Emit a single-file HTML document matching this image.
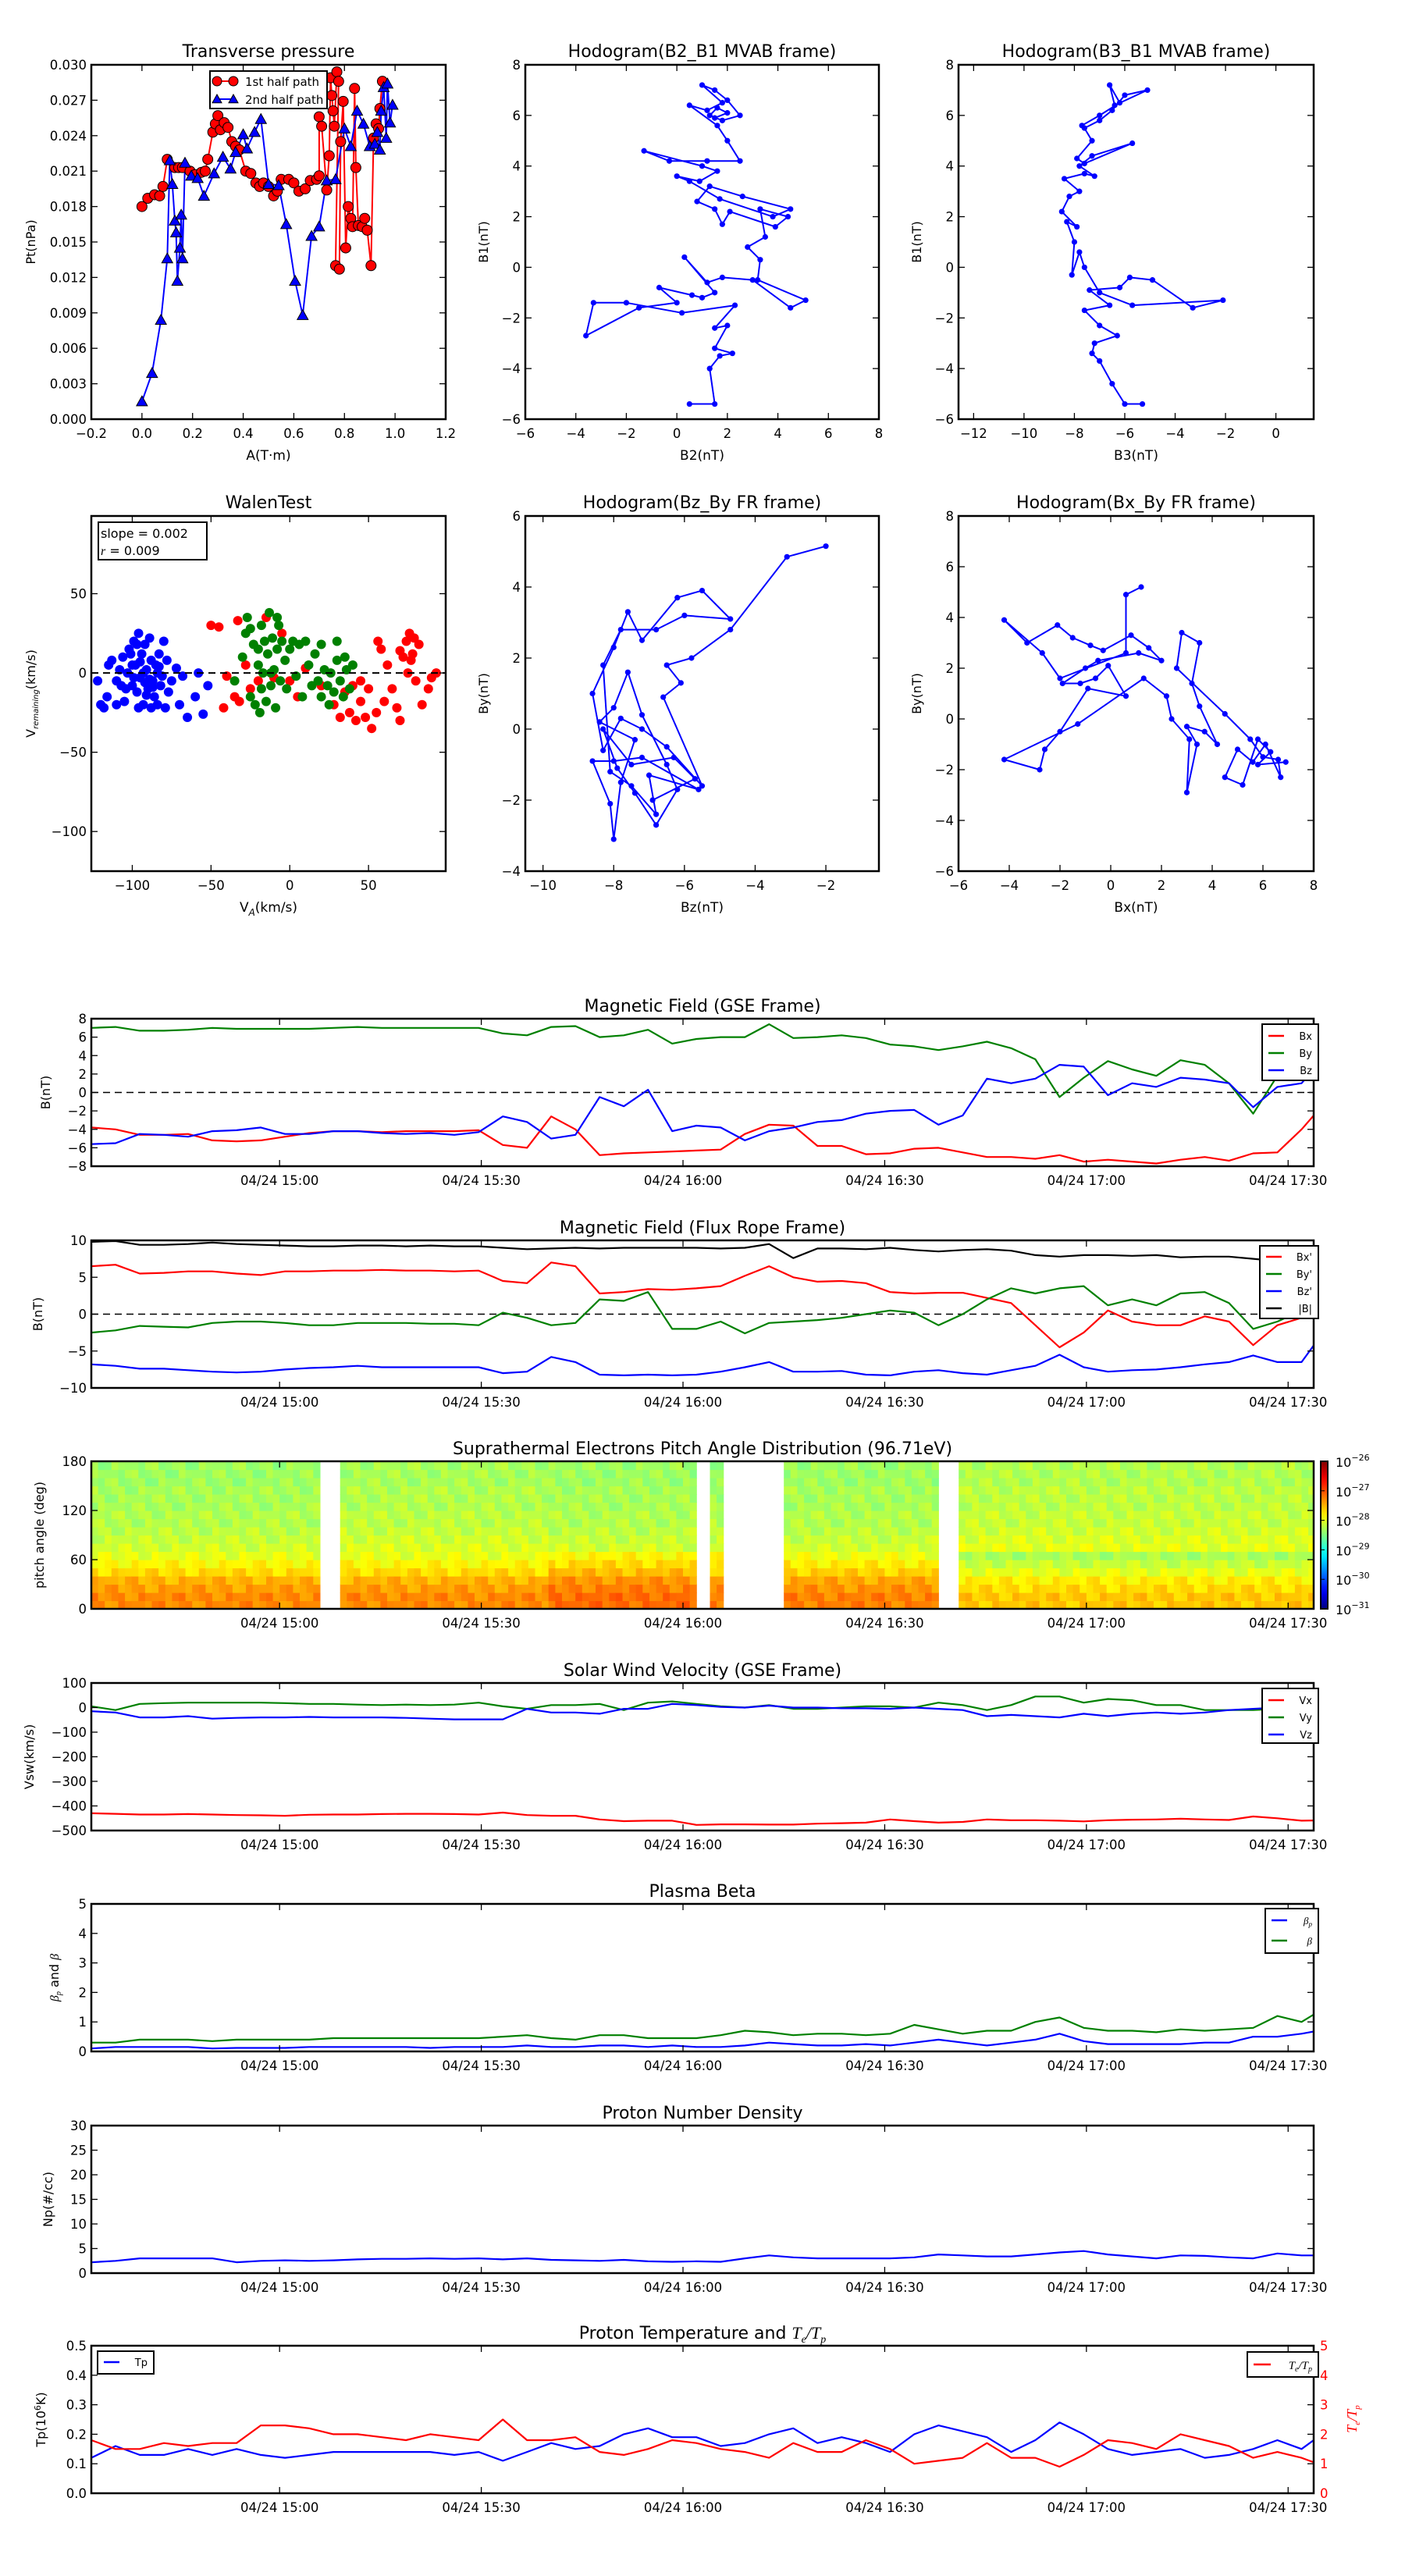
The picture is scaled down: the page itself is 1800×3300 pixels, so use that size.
<!DOCTYPE html>
<html><head><meta charset="utf-8"><title>Flux rope analysis</title>
<style>
html,body{margin:0;padding:0;background:#fff;}
svg{display:block;}
text{font-family:"DejaVu Sans","Liberation Sans",sans-serif;fill:#000;}
.lab{font-family:"DejaVu Sans","Liberation Sans",sans-serif;}
</style></head>
<body>
<svg id="chart" xmlns="http://www.w3.org/2000/svg" width="1800" height="3300" viewBox="0 0 1800 3300"></svg>
<script>
// ---------- DATA ----------
const tpRedA=[0.0,0.023,0.05,0.07,0.083,0.1,0.13,0.145,0.16,0.19,0.21,0.235,0.25,0.26,0.28,0.29,0.3,0.31,0.325,0.34,0.355,0.37,0.385,0.41,0.43,0.45,0.465,0.48,0.5,0.52,0.535,0.55,0.58,0.6,0.62,0.645,0.665,0.69,0.7,0.7,0.71,0.73,0.74,0.745,0.75,0.755,0.76,0.77,0.777,0.765,0.78,0.785,0.795,0.805,0.815,0.825,0.832,0.84,0.845,0.855,0.87,0.88,0.89,0.905,0.915,0.925,0.935,0.94,0.95];
const tpRedPt=[0.018,0.0187,0.019,0.0189,0.0197,0.022,0.0213,0.0213,0.0213,0.021,0.0207,0.0209,0.021,0.022,0.0243,0.025,0.0257,0.0245,0.0251,0.0247,0.0235,0.0231,0.0228,0.021,0.0208,0.02,0.0197,0.02,0.0197,0.0189,0.0193,0.0203,0.0203,0.02,0.0193,0.0195,0.0202,0.0203,0.0206,0.0256,0.0248,0.0194,0.0223,0.0289,0.0274,0.0261,0.0248,0.0294,0.0286,0.013,0.0127,0.0235,0.0269,0.0145,0.018,0.017,0.0163,0.028,0.0213,0.0164,0.0163,0.017,0.016,0.013,0.0238,0.025,0.0246,0.0263,0.0286];
const tpBlueA=[0.0,0.04,0.075,0.1,0.11,0.12,0.13,0.135,0.14,0.15,0.155,0.16,0.17,0.195,0.22,0.245,0.285,0.32,0.35,0.37,0.4,0.415,0.445,0.47,0.5,0.54,0.57,0.605,0.635,0.67,0.7,0.73,0.765,0.8,0.825,0.85,0.875,0.9,0.92,0.93,0.94,0.945,0.955,0.965,0.97,0.98,0.99];
const tpBluePt=[0.0015,0.0039,0.0084,0.0136,0.0219,0.0199,0.0168,0.0158,0.0117,0.0145,0.0173,0.0136,0.0217,0.0206,0.0204,0.0189,0.0208,0.0222,0.0212,0.0226,0.0241,0.0229,0.0243,0.0254,0.0199,0.0198,0.0165,0.0117,0.0088,0.0155,0.0163,0.0202,0.0203,0.0246,0.0231,0.0261,0.025,0.0231,0.0233,0.0243,0.0228,0.0261,0.0281,0.0238,0.0284,0.0251,0.0266];
const h1B2=[0.5,1.5,1.3,1.7,2.2,1.5,2,1.5,2.3,0.2,-2,-3.3,-3.6,-1.5,0,-0.7,0.6,1,1.5,0.3,1.2,1.8,3.0,4.5,5.1,3.2,3.3,2.8,3.5,3.3,4.4,3.9,2.1,1.8,1.5,0.8,1.3,2.6,4.5,3.8,1.7,0.5,0,0.9,1.6,1.0,-1.3,-0.3,1.2,2.5,2,1.6,0.5,1.2,1.8,1.0,1.5,2,2.5,1.8,1.3,1.6,2,1.5];
const h1B1=[-5.4,-5.4,-4,-3.5,-3.4,-3.2,-2.3,-2.4,-1.5,-1.8,-1.4,-1.4,-2.7,-1.6,-1.4,-0.8,-1.1,-1.2,-1.0,0.4,-0.6,-0.4,-0.5,-1.6,-1.3,-0.5,0.3,0.8,1.2,2.3,2.0,1.6,2.2,1.7,2.3,2.6,3.2,2.8,2.3,2.0,2.7,3.4,3.6,3.4,3.8,4.0,4.6,4.2,4.2,4.2,5.0,5.6,6.4,6.2,6.5,7.2,7.0,6.6,6.0,5.8,6.0,6.3,6.1,5.9];
const h2B3=[-5.3,-6.0,-6.5,-7,-7.3,-7.2,-6.3,-7,-7.6,-6.6,-7.4,-6.2,-5.8,-4.9,-3.3,-2.1,-5.7,-7.0,-7.6,-7.8,-8.1,-8.0,-8.3,-7.9,-8.5,-8.2,-7.8,-8.4,-7.6,-7.2,-7.8,-7.3,-5.7,-7.6,-7.9,-7.3,-7.6,-7,-6.5,-6.0,-5.1,-6.4,-6.6,-6.2,-7.0,-7.7];
const h2B1=[-5.4,-5.4,-4.6,-3.7,-3.4,-3.0,-2.7,-2.3,-1.7,-1.5,-0.9,-0.8,-0.4,-0.5,-1.6,-1.3,-1.5,-1.0,0,0.6,-0.3,1.0,1.8,1.6,2.2,2.8,3.0,3.5,3.7,3.6,4.0,4.4,4.9,4.1,4.3,5.0,5.5,5.8,6.2,6.8,7.0,6.4,7.2,6.5,6.0,5.6];
const h3Bz=[-2,-3.1,-4.7,-5.8,-6.5,-6.1,-6.6,-5.5,-6.5,-7.2,-7.8,-8.3,-8.6,-8.0,-7.6,-7.2,-6.2,-5.5,-4.7,-6.0,-6.8,-7.8,-8.3,-8.1,-7.5,-6.8,-7,-5.6,-7.2,-8.0,-8.6,-8.1,-8.0,-7.8,-7.4,-8.4,-8.0,-7.6,-7.2,-6.5,-6.2,-6.8,-7.4,-7.9,-8.3,-7.5,-6.3,-5.7,-6.9];
const h3By=[5.15,4.85,2.8,2.0,1.8,1.3,0.9,-1.6,-0.5,0,0.3,-0.6,1.0,2.3,3.3,2.5,3.7,3.9,3.1,3.2,2.8,2.8,1.8,-1.2,-1.6,-2.4,-1.3,-1.7,-0.8,-0.9,-0.9,-2.1,-3.1,-1.5,-0.3,0.2,0.6,1.6,0.4,-1.0,-1.7,-2.7,-1.8,-1.1,0.0,-1.0,-0.8,-1.4,-2.0];
const h4Bx=[1.2,0.6,0.6,-2,-2.7,-4.2,-3.3,-2.1,-1.5,-0.8,-0.3,0.8,1.5,2.0,1.1,-0.5,-1,-1.9,-1.2,-0.6,-0.1,0.6,-0.9,-2,-2.6,-2.8,-4.2,-1.3,1.3,2.2,2.4,3.1,3.0,3.4,3.0,3.7,4.2,3.5,3.2,3.5,2.8,2.6,4.5,5.5,6.0,6.6,6.7,6.1,5.6,5.0,4.5,5.2,5.8,6.3,5.8,6.9];
const h4By=[5.2,4.9,2.6,1.6,2.6,3.9,3.0,3.7,3.2,2.9,2.7,3.3,2.8,2.3,2.6,2.3,2.0,1.4,1.4,1.6,2.1,0.9,1.2,-0.5,-1.2,-2.0,-1.6,-0.2,1.6,0.9,0.0,-0.8,-2.9,-1.0,-0.3,-0.5,-1.0,0.5,1.4,3.0,3.4,2.0,0.2,-0.8,-1.5,-1.6,-2.3,-1.0,-1.7,-1.2,-2.3,-2.6,-0.8,-1.3,-1.8,-1.7];
const wBlueVA=[-120,-118,-115,-113,-110,-108,-106,-105,-103,-102,-100,-99,-98,-97,-96,-95,-94,-93,-92,-91,-90,-89,-88,-87,-86,-85,-84,-83,-82,-81,-80,-79,-78,-77,-75,-72,-70,-68,-65,-60,-58,-55,-52,-110,-122,-116,-107,-100,-96,-92,-88,-84,-101,-97,-93,-89,-104,-99,-95,-91,-87,-83];
const wBlueVR=[-20,-22,5,8,-5,2,10,-18,0,15,-8,20,5,-12,25,-3,12,-20,18,2,-10,22,8,-5,-15,5,-20,12,-8,-2,20,-22,8,-12,-5,3,-20,-2,-28,-15,0,-26,-8,-20,-5,-15,-8,5,-22,-6,-22,0,12,18,0,-4,-10,-3,7,-14,-9,4];
const wGreenVA=[-35,-30,-28,-27,-25,-23,-22,-20,-19,-18,-17,-16,-15,-14,-13,-12,-11,-10,-9,-8,-7,-6,-5,-3,-2,0,2,4,6,8,10,12,14,16,18,20,22,24,25,26,28,30,32,34,36,38,40,-18,-12,-20,-25,-8,20,30,35];
const wGreenVR=[-5,10,25,35,-15,18,-20,5,-25,30,0,20,-18,12,38,-8,22,2,-22,15,30,-5,20,8,-10,15,20,-2,18,-15,20,5,-8,12,-5,-15,2,-8,-20,0,-12,8,-5,-15,2,-10,5,-10,0,15,28,35,18,20,10];
const wRedVA=[-50,-45,-42,-35,-33,-32,-28,-25,-20,-15,-10,-5,0,5,10,20,28,32,35,38,40,42,45,48,50,52,55,58,60,62,65,68,70,72,74,75,76,78,80,82,84,88,90,93,56,70,77,79,-40,45];
const wRedVR=[30,29,-22,-15,33,-18,5,-10,-5,35,-3,25,-5,-15,3,-8,-20,-28,-12,-25,-8,-30,-18,-28,-10,-35,-25,15,-18,5,-10,-22,-30,10,20,0,25,12,-5,18,-20,-10,-3,0,20,14,8,22,-2,-5];
const gseBx=[-3.8,-4.0,-4.6,-4.6,-4.5,-5.2,-5.3,-5.2,-4.8,-4.4,-4.2,-4.2,-4.3,-4.2,-4.2,-4.2,-4.1,-5.7,-6.0,-2.6,-4.0,-6.8,-6.6,-6.5,-6.4,-6.3,-6.2,-4.5,-3.5,-3.6,-5.8,-5.8,-6.7,-6.6,-6.1,-6.0,-6.5,-7.0,-7.0,-7.2,-6.8,-7.5,-7.3,-7.5,-7.7,-7.3,-7.0,-7.4,-6.6,-6.5,-4.0,-1.0];
const gseBy=[7.0,7.1,6.7,6.7,6.8,7.0,6.9,6.9,6.9,6.9,7.0,7.1,7.0,7.0,7.0,7.0,7.0,6.4,6.2,7.1,7.2,6.0,6.2,6.8,5.3,5.8,6.0,6.0,7.4,5.9,6.0,6.2,5.9,5.2,5.0,4.6,5.0,5.5,4.8,3.6,-0.5,1.6,3.4,2.5,1.8,3.5,3.0,1.0,-2.3,1.8,3.0,4.0];
const gseBz=[-5.6,-5.5,-4.5,-4.6,-4.8,-4.2,-4.1,-3.8,-4.5,-4.5,-4.2,-4.2,-4.4,-4.5,-4.4,-4.6,-4.3,-2.6,-3.2,-5.0,-4.6,-0.5,-1.5,0.3,-4.2,-3.6,-3.8,-5.2,-4.2,-3.8,-3.2,-3.0,-2.3,-2.0,-1.9,-3.5,-2.5,1.5,1.0,1.5,3.0,2.8,-0.3,1.0,0.6,1.6,1.4,1.0,-1.6,0.6,1.0,4.0];
const frBx=[6.5,6.7,5.5,5.6,5.8,5.8,5.5,5.3,5.8,5.8,5.9,5.9,6.0,5.9,5.9,5.8,5.9,4.5,4.2,7.0,6.5,2.8,3.0,3.4,3.3,3.5,3.8,5.2,6.5,5.0,4.4,4.5,4.2,3.0,2.8,2.9,2.9,2.2,1.5,-1.5,-4.5,-2.5,0.5,-1.0,-1.5,-1.5,-0.3,-1.0,-4.2,-1.5,-0.5,1.5];
const frBy=[-2.5,-2.2,-1.6,-1.7,-1.8,-1.2,-1.0,-1.0,-1.2,-1.5,-1.5,-1.2,-1.2,-1.2,-1.3,-1.3,-1.5,0.2,-0.5,-1.5,-1.2,2.0,1.8,3.0,-2.0,-2.0,-1.0,-2.6,-1.2,-1.0,-0.8,-0.5,0,0.5,0.2,-1.5,0,2.0,3.5,2.8,3.5,3.8,1.2,2.0,1.2,2.8,3.0,1.5,-2.0,-1.0,0.5,1.5];
const frBz=[-6.8,-7.0,-7.4,-7.4,-7.6,-7.8,-7.9,-7.8,-7.5,-7.3,-7.2,-7.0,-7.2,-7.2,-7.2,-7.2,-7.2,-8.0,-7.8,-5.8,-6.5,-8.2,-8.3,-8.2,-8.3,-8.2,-7.8,-7.2,-6.5,-7.8,-7.8,-7.7,-8.2,-8.3,-7.8,-7.6,-8.0,-8.2,-7.6,-7.0,-5.5,-7.2,-7.8,-7.6,-7.5,-7.2,-6.8,-6.5,-5.6,-6.5,-6.5,-2.0];
const frBt=[9.8,9.9,9.4,9.4,9.5,9.7,9.5,9.4,9.3,9.2,9.2,9.3,9.3,9.2,9.3,9.2,9.2,9.0,8.8,8.9,9.0,8.9,9.0,9.0,9.0,9.0,8.9,9.0,9.5,7.6,8.9,8.9,8.8,9.0,8.7,8.5,8.7,8.8,8.6,8.0,7.8,8.0,8.0,7.9,8.0,7.7,7.8,7.8,7.5,7.2,7.0,7.0];
const swVx=[-430,-432,-435,-435,-433,-435,-437,-438,-440,-436,-435,-435,-433,-432,-432,-433,-435,-427,-437,-440,-440,-455,-462,-460,-460,-477,-475,-475,-476,-476,-472,-470,-468,-455,-462,-468,-465,-455,-458,-458,-460,-463,-458,-456,-455,-452,-455,-457,-443,-450,-460,-458];
const swVy=[5,-10,15,18,20,20,20,20,18,15,15,12,10,12,10,12,20,5,-5,10,10,15,-10,20,25,15,5,0,10,-5,-5,0,5,5,0,20,10,-10,10,45,45,20,35,30,10,10,-10,-10,-10,-5,15,10];
const swVz=[-15,-20,-40,-40,-35,-45,-42,-40,-40,-38,-40,-40,-40,-42,-45,-48,-48,-48,-5,-20,-20,-25,-5,-5,15,10,3,0,8,0,0,-3,-3,-5,0,-5,-10,-35,-30,-35,-40,-25,-35,-25,-20,-25,-20,-10,-5,0,5,10];
const betaP=[0.1,0.15,0.15,0.15,0.15,0.1,0.12,0.12,0.12,0.15,0.15,0.15,0.15,0.15,0.12,0.15,0.15,0.15,0.2,0.15,0.15,0.2,0.2,0.15,0.2,0.15,0.15,0.2,0.3,0.25,0.2,0.2,0.25,0.2,0.3,0.4,0.3,0.2,0.3,0.4,0.6,0.35,0.25,0.25,0.25,0.25,0.3,0.3,0.5,0.5,0.6,0.75];
const betaT=[0.3,0.3,0.4,0.4,0.4,0.35,0.4,0.4,0.4,0.4,0.45,0.45,0.45,0.45,0.45,0.45,0.45,0.5,0.55,0.45,0.4,0.55,0.55,0.45,0.45,0.45,0.55,0.7,0.65,0.55,0.6,0.6,0.55,0.6,0.9,0.75,0.6,0.7,0.7,1.0,1.15,0.8,0.7,0.7,0.65,0.75,0.7,0.75,0.8,1.2,1.0,1.5];
const npVals=[2.2,2.5,3.0,3.0,3.0,3.0,2.2,2.5,2.6,2.5,2.6,2.8,2.9,2.9,3.0,2.9,3.0,2.8,3.0,2.7,2.6,2.5,2.7,2.4,2.3,2.4,2.3,3.0,3.6,3.2,3.0,3.0,3.0,3.0,3.2,3.8,3.6,3.4,3.4,3.8,4.2,4.5,3.8,3.4,3.0,3.6,3.5,3.2,3.0,4.0,3.6,3.6];
const tpVals=[0.12,0.16,0.13,0.13,0.15,0.13,0.15,0.13,0.12,0.13,0.14,0.14,0.14,0.14,0.14,0.13,0.14,0.11,0.14,0.17,0.15,0.16,0.20,0.22,0.19,0.19,0.16,0.17,0.20,0.22,0.17,0.19,0.17,0.14,0.20,0.23,0.21,0.19,0.14,0.18,0.24,0.20,0.15,0.13,0.14,0.15,0.12,0.13,0.15,0.18,0.15,0.21];
const teTpVals=[1.8,1.5,1.5,1.7,1.6,1.7,1.7,2.3,2.3,2.2,2.0,2.0,1.9,1.8,2.0,1.9,1.8,2.5,1.8,1.8,1.9,1.4,1.3,1.5,1.8,1.7,1.5,1.4,1.2,1.7,1.4,1.4,1.8,1.5,1.0,1.1,1.2,1.7,1.2,1.2,0.9,1.3,1.8,1.7,1.5,2.0,1.8,1.6,1.2,1.4,1.2,0.9];
const padRowLog=[-27.3,-27.3,-27.4,-27.5,-27.7,-27.85,-28.0,-28.1,-28.15,-28.2,-28.25,-28.25,-28.3,-28.3,-28.3,-28.35,-28.35,-28.35];
const padBlockStart=[32,69,100,124,135,160];
const padBlockLow=[0,0,0.15,0.1,0.05,-0.3];
const padBlockHigh=[0,0.05,0,0,0,0.1];
const padColVar=[0,0.1,-0.1,0.05,-0.15,0.12,0,-0.08,0.15,-0.05,0.08,-0.12,0.02];
const padGapStart=[66,122.1,125.9,158];
const padGapEnd=[69.1,124,135.1,160.8];
const timeTickMin=[60,90,120,150,180,210];
const timeTickLab=['04/24 15:00','04/24 15:30','04/24 16:00','04/24 16:30','04/24 17:00','04/24 17:30'];

// ---------- HELPERS ----------
const NS='http://www.w3.org/2000/svg';
const svg=document.getElementById('chart');
const TICK=16.5,TTL=22;
function mk(tag,parent){const e=document.createElementNS(NS,tag);(parent||svg).appendChild(e);return e;}
function txt(parent,x,y,s,size,anchor){const t=mk('text',parent);t.setAttribute('x',x);t.setAttribute('y',y);t.setAttribute('font-size',size);t.setAttribute('text-anchor',anchor||'middle');t.textContent=s;return t;}
function line(parent,x1,y1,x2,y2,color,w,dash){const l=mk('line',parent);l.setAttribute('x1',x1);l.setAttribute('y1',y1);l.setAttribute('x2',x2);l.setAttribute('y2',y2);l.setAttribute('stroke',color);l.setAttribute('stroke-width',w);if(dash)l.setAttribute('stroke-dasharray',dash);return l;}
function lin(d0,d1,p0,p1){return v=>p0+(v-d0)/(d1-d0)*(p1-p0);}
let clipN=0;
function frame(g,b){const r=mk('rect',g);r.setAttribute('x',b.l);r.setAttribute('y',b.t);r.setAttribute('width',b.r-b.l);r.setAttribute('height',b.b-b.t);r.setAttribute('fill','none');r.setAttribute('stroke','#000');r.setAttribute('stroke-width',2.5);

}
function clip(g,b){const id='c'+(clipN++);const cp=mk('clipPath',g);cp.setAttribute('id',id);const r=mk('rect',cp);r.setAttribute('x',b.l);r.setAttribute('y',b.t);r.setAttribute('width',b.r-b.l);r.setAttribute('height',b.b-b.t);const cg=mk('g',g);cg.setAttribute('clip-path','url(#'+id+')');return cg;}
function xTicks(g,b,sx,vals,labs,size){vals.forEach((v,i)=>{const x=sx(v);line(g,x,b.b,x,b.b-8,'#000',1.3);line(g,x,b.t,x,b.t+8,'#000',1.3);const t=txt(g,x,b.b+24,labs[i],size||TICK);

});}
function yTicks(g,b,sy,vals,labs,size,noRight){vals.forEach((v,i)=>{const y=sy(v);line(g,b.l,y,b.l+8,y,'#000',1.3);if(!noRight)line(g,b.r,y,b.r-8,y,'#000',1.3);const t=txt(g,b.l-6,y+6,labs[i],size||TICK,'end');

});}
function title(g,x,y,s){const t=txt(g,x,y,s,TTL);

return t;}
function ylab(g,x,y,s,size){const t=txt(g,0,0,s,size||16);t.setAttribute('transform','translate('+x+','+y+') rotate(-90)');t.setAttribute('class','lab');

return t;}
function poly(g,xs,ys,sx,sy,color,w){const p=mk('polyline',g);p.setAttribute('points',xs.map((v,i)=>sx(v).toFixed(1)+','+sy(ys[i]).toFixed(1)).join(' '));p.setAttribute('fill','none');p.setAttribute('stroke',color);p.setAttribute('stroke-width',w||2);p.setAttribute('stroke-linejoin','round');return p;}
function dots(g,xs,ys,sx,sy,color,r){xs.forEach((v,i)=>{const c=mk('circle',g);c.setAttribute('cx',sx(v));c.setAttribute('cy',sy(ys[i]));c.setAttribute('r',r);c.setAttribute('fill',color);c.setAttribute('stroke','#000');c.setAttribute('stroke-width',r>4?1:0);

});}
function tris(g,xs,ys,sx,sy,color,r){xs.forEach((v,i)=>{const x=sx(v),y=sy(ys[i]);const p=mk('polygon',g);p.setAttribute('points',x+','+(y-r)+' '+(x-r)+','+(y+r*0.8)+' '+(x+r)+','+(y+r*0.8));p.setAttribute('fill',color);p.setAttribute('stroke','#000');p.setAttribute('stroke-width',1);

});}
function range(a,b,s){const r=[];for(let v=a;v<=b+1e-9;v+=s)r.push(Math.round(v*1000)/1000);return r;}
function fmt(d){return v=>{let s=v.toFixed(d);return s.replace('-','\u2212');};}

// ---------- TRANSVERSE PRESSURE ----------
(function(){const g=mk('g');
const b={l:117,t:83,r:571,b:537};const sx=lin(-0.2,1.2,b.l,b.r),sy=lin(0,0.03,b.b,b.t);
title(g,(b.l+b.r)/2,73,'Transverse pressure');
const cg=clip(g,b);
poly(cg,tpRedA,tpRedPt,sx,sy,'#ff0000',2);poly(cg,tpBlueA,tpBluePt,sx,sy,'#0000ff',2);
dots(cg,tpRedA,tpRedPt,sx,sy,'#ff0000',6.5);tris(cg,tpBlueA,tpBluePt,sx,sy,'#0000ff',7);
frame(g,b);
const xv=range(-0.2,1.2,0.2);xTicks(g,b,sx,xv,xv.map(fmt(1)));
const yv=range(0,0.03,0.003);yTicks(g,b,sy,yv,yv.map(fmt(3)));
const xl=txt(g,(b.l+b.r)/2,589,'A(T\u00b7m)',17);
ylab(g,45,(b.t+b.b)/2,'Pt(nPa)');
const lg=mk('g',g);
const lr=mk('rect',lg);lr.setAttribute('x',269);lr.setAttribute('y',91);lr.setAttribute('width',150);lr.setAttribute('height',48);lr.setAttribute('fill','#fff');lr.setAttribute('stroke','#000');lr.setAttribute('stroke-width',2);
line(lg,278,104,299,104,'#ff0000',2);dots(lg,[0,1],[0,0],v=>278+v*21,()=>104,'#ff0000',6);
line(lg,278,127,299,127,'#0000ff',2);tris(lg,[0,1],[0,0],v=>278+v*21,()=>127,'#0000ff',6);
const t1=txt(lg,314,110,'1st half path',15,'start');
const t2=txt(lg,314,133,'2nd half path',15,'start');
})();

// ---------- HODOGRAMS ----------
function hodo(name,b,xr,yr,xv,yv,xs,ys,ttl,xlab,ylabTxt,ylabX,tl){const g=mk('g');
const sx=lin(xr[0],xr[1],b.l,b.r),sy=lin(yr[0],yr[1],b.b,b.t);
title(g,(b.l+b.r)/2,tl,ttl);
const cg=clip(g,b);poly(cg,xs,ys,sx,sy,'#0000ff',2);dots(cg,xs,ys,sx,sy,'#0000ff',3.6);
frame(g,b);xTicks(g,b,sx,xv,xv.map(fmt(0)));yTicks(g,b,sy,yv,yv.map(fmt(0)));
const xl=txt(g,(b.l+b.r)/2,b.b+52,xlab,17);
ylab(g,ylabX,(b.t+b.b)/2,ylabTxt);return g;}
hodo('hodogram-b2-b1',{l:673,t:83,r:1126,b:537},[-6,8],[-6,8],range(-6,8,2),range(-6,8,2),h1B2,h1B1,'Hodogram(B2_B1 MVAB frame)','B2(nT)','B1(nT)',625,73);
hodo('hodogram-b3-b1',{l:1228,t:83,r:1683,b:537},[-12.6,1.5],[-6,8],range(-12,0,2),range(-6,8,2),h2B3,h2B1,'Hodogram(B3_B1 MVAB frame)','B3(nT)','B1(nT)',1180,73);
hodo('hodogram-bz-by',{l:673,t:661,r:1126,b:1116},[-10.5,-0.5],[-4,6],range(-10,-2,2),range(-4,6,2),h3Bz,h3By,'Hodogram(Bz_By FR frame)','Bz(nT)','By(nT)',625,651);
hodo('hodogram-bx-by',{l:1228,t:661,r:1683,b:1116},[-6,8],[-6,8],range(-6,8,2),range(-6,8,2),h4Bx,h4By,'Hodogram(Bx_By FR frame)','Bx(nT)','By(nT)',1180,651);

// ---------- WALEN TEST ----------
(function(){const g=mk('g');
const b={l:117,t:661,r:571,b:1116};const sx=lin(-126,99,b.l,b.r),sy=lin(-125,99,b.b,b.t);
title(g,(b.l+b.r)/2,651,'WalenTest');
const cg=clip(g,b);
dots(cg,wBlueVA,wBlueVR,sx,sy,'#0000ff',6);dots(cg,wRedVA,wRedVR,sx,sy,'#ff0000',6);dots(cg,wGreenVA,wGreenVR,sx,sy,'#008000',6);
const zl=line(cg,b.l,sy(0),b.r,sy(0),'#000',2,'9,6');
cg.querySelectorAll('circle').forEach(c=>c.setAttribute('stroke-width',0));
frame(g,b);
xTicks(g,b,sx,[-100,-50,0,50],['\u2212100','\u221250','0','50']);
yTicks(g,b,sy,[-100,-50,0,50],['\u2212100','\u221250','0','50']);
const xl=txt(g,(b.l+b.r)/2,1168,'',17);xl.innerHTML='V<tspan font-size="12" dy="5" font-style="italic">A</tspan><tspan dy="-5">(km/s)</tspan>';
const yl=ylab(g,45,(b.t+b.b)/2,'');yl.innerHTML='V<tspan font-size="10" dy="4" font-style="italic">remaining</tspan><tspan dy="-4">(km/s)</tspan>';
const lg=mk('g',g);
const r=mk('rect',lg);r.setAttribute('x',126);r.setAttribute('y',669);r.setAttribute('width',139);r.setAttribute('height',48);r.setAttribute('fill','#fff');r.setAttribute('stroke','#000');r.setAttribute('stroke-width',2);
txt(lg,129,689,'slope = 0.002',16,'start');const rt=txt(lg,129,711,'',16,'start');rt.innerHTML='<tspan font-style="italic" font-family="Liberation Serif">r</tspan> = 0.009';
})();

// ---------- TIME SERIES ----------
const TL=117,TR=1683;
const tx=lin(32,213.8,TL,TR);
const tmin=gseBx.map((_,i)=>32+3.6*i);
function tsPanel(name,top,ttl,yr,yv,ylabs,ylabTxt,ylabX,series,legend,opts){opts=opts||{};
const g=mk('g');
const b={l:TL,t:top,r:TR,b:top+189};const sy=lin(yr[0],yr[1],b.b,b.t);
const tt=title(g,(b.l+b.r)/2,top-9,'');tt.innerHTML=ttl;
const cg=clip(g,b);
if(opts.zero){const z=line(cg,b.l,sy(0),b.r,sy(0),'#000',1.5,'9,6');}
if(opts.draw)opts.draw(cg,b,sy);
series.forEach(s=>{const p=poly(cg,tmin,s.v,tx,s.sy||sy,s.c,2.2);

});
frame(g,b);xTicks(g,b,tx,timeTickMin,timeTickLab);yTicks(g,b,sy,yv,ylabs,TICK,opts.noRight);
const yl=ylab(g,ylabX,(b.t+b.b)/2,'');yl.innerHTML=ylabTxt;
if(legend){const lg=mk('g',g);
const r=mk('rect',lg);r.setAttribute('x',legend.x);r.setAttribute('y',legend.y);r.setAttribute('width',legend.w);r.setAttribute('height',legend.h);r.setAttribute('fill','#fff');r.setAttribute('stroke','#000');r.setAttribute('stroke-width',2);
legend.items.forEach((it,i)=>{const y=legend.y+legend.first+i*legend.step;line(lg,legend.x+8,y,legend.x+28,y,it.c,2.5);const t=txt(lg,legend.x+legend.w-8,y+5,'',13,'end');t.innerHTML=it.t;

});}
return {g,b,sy};}
tsPanel('magnetic-field-gse-panel',1305,'Magnetic Field (GSE Frame)',[-8,8],range(-8,8,2),range(-8,8,2).map(fmt(0)),'B(nT)',64,
[{v:gseBx,c:'#ff0000',n:'line-bx'},{v:gseBy,c:'#008000',n:'line-by'},{v:gseBz,c:'#0000ff',n:'line-bz'}],
{x:1617,y:1312,w:72,h:72,first:15,step:22,items:[{c:'#ff0000',t:'Bx'},{c:'#008000',t:'By'},{c:'#0000ff',t:'Bz'}]},{zero:true});
tsPanel('magnetic-field-fr-panel',1589,'Magnetic Field (Flux Rope Frame)',[-10,10],range(-10,10,5),range(-10,10,5).map(fmt(0)),'B(nT)',54,
[{v:frBt,c:'#000000',n:'line-btotal'},{v:frBx,c:'#ff0000',n:'line-bx-prime'},{v:frBy,c:'#008000',n:'line-by-prime'},{v:frBz,c:'#0000ff',n:'line-bz-prime'}],
{x:1614,y:1596,w:75,h:93,first:14,step:22,items:[{c:'#ff0000',t:"Bx'"},{c:'#008000',t:"By'"},{c:'#0000ff',t:"Bz'"},{c:'#000000',t:'|B|'}]},{zero:true});

function jet(v){v=Math.max(0,Math.min(1,v));const f=x=>Math.round(255*Math.max(0,Math.min(1,x)));return 'rgb('+f(1.5-Math.abs(4*v-3))+','+f(1.5-Math.abs(4*v-2))+','+f(1.5-Math.abs(4*v-1))+')';}
tsPanel('pitch-angle-distribution-panel',1872,'Suprathermal Electrons Pitch Angle Distribution (96.71eV)',[0,180],[0,60,120,180],['0','60','120','180'],'pitch angle (deg)',56,[],null,{draw:(cg,b,sy)=>{
const cw=tx(33)-tx(32);
for(let t=32;t<214;t+=1){let gap=false;padGapStart.forEach((s,k)=>{if(t+0.5>s&&t+0.5<padGapEnd[k])gap=true;});if(gap)continue;
let bi=0;padBlockStart.forEach((s,k)=>{if(t>=s)bi=k;});
padRowLog.forEach((lv,j)=>{const val=lv+(j<7?padBlockLow[bi]:padBlockHigh[bi])+padColVar[(t*7+j*5)%padColVar.length];const r=mk('rect',cg);r.setAttribute('x',tx(t).toFixed(1));r.setAttribute('y',sy((j+1)*10).toFixed(1));r.setAttribute('width',(cw+0.6).toFixed(1));r.setAttribute('height',(sy(0)-sy(10)+0.6).toFixed(1));r.setAttribute('fill',jet((val+31)/5));

});}
}});
(function(){const g=mk('g');
const defs=mk('defs',g);const lg=mk('linearGradient',defs);lg.setAttribute('id','jetg');lg.setAttribute('x1',0);lg.setAttribute('y1',1);lg.setAttribute('x2',0);lg.setAttribute('y2',0);
for(let i=0;i<=20;i++){const s=mk('stop',lg);s.setAttribute('offset',i/20);s.setAttribute('stop-color',jet(i/20));}
const r=mk('rect',g);r.setAttribute('x',1692);r.setAttribute('y',1872);r.setAttribute('width',9);r.setAttribute('height',189);r.setAttribute('fill','url(#jetg)');r.setAttribute('stroke','#000');r.setAttribute('stroke-width',2);
const cy=lin(-31,-26,2061,1872);
[-31,-30,-29,-28,-27,-26].forEach(e=>{const t=txt(g,1711,cy(e)+7,'',16,'start');t.innerHTML='10<tspan font-size="11" dy="-8">\u2212'+(-e)+'</tspan>';

line(g,1692,cy(e),1697,cy(e),'#000',1);});})();

tsPanel('solar-wind-velocity-panel',2156,'Solar Wind Velocity (GSE Frame)',[-500,100],range(-500,100,100),range(-500,100,100).map(fmt(0)),'Vsw(km/s)',43,
[{v:swVx,c:'#ff0000',n:'line-vx'},{v:swVy,c:'#008000',n:'line-vy'},{v:swVz,c:'#0000ff',n:'line-vz'}],
{x:1617,y:2163,w:72,h:70,first:15,step:22,items:[{c:'#ff0000',t:'Vx'},{c:'#008000',t:'Vy'},{c:'#0000ff',t:'Vz'}]});
tsPanel('plasma-beta-panel',2439,'Plasma Beta',[0,5],range(0,5,1),range(0,5,1).map(fmt(0)),'<tspan font-style="italic" font-family="Liberation Serif">\u03b2<tspan font-size="10" dy="3">p</tspan></tspan><tspan dy="-3"> and </tspan><tspan font-style="italic" font-family="Liberation Serif">\u03b2</tspan>',75,
[{v:betaT,c:'#008000',n:'line-beta'},{v:betaP,c:'#0000ff',n:'line-beta-p'}],
{x:1621,y:2445,w:68,h:57,first:15,step:26,items:[{c:'#0000ff',t:'<tspan font-style="italic" font-family="Liberation Serif">\u03b2<tspan font-size="9" dy="3">p</tspan></tspan>'},{c:'#008000',t:'<tspan font-style="italic" font-family="Liberation Serif">\u03b2</tspan>'}]});
tsPanel('proton-density-panel',2723,'Proton Number Density',[0,30],range(0,30,5),range(0,30,5).map(fmt(0)),'Np(#/cc)',67,
[{v:npVals,c:'#0000ff',n:'line-np'}],null);
(function(){const sy2=lin(0,5,3194,3005);
const p=tsPanel('proton-temperature-panel',3005,'Proton Temperature and <tspan font-style="italic" font-family="Liberation Serif">T<tspan font-size="14" dy="5">e</tspan><tspan dy="-5">/T</tspan><tspan font-size="14" dy="5">p</tspan></tspan>',[0,0.5],range(0,0.5,0.1),range(0,0.5,0.1).map(fmt(1)),'Tp(10<tspan font-size="11" dy="-6">6</tspan><tspan dy="6">K)</tspan>',58,
[{v:tpVals,c:'#0000ff',n:'line-tp'},{v:teTpVals,c:'#ff0000',n:'line-te-tp',sy:sy2}],
{x:125,y:3012,w:72,h:29,first:14,step:22,items:[{c:'#0000ff',t:'Tp'}]},{noRight:true});
[0,1,2,3,4,5].forEach(v=>{const y=sy2(v);line(p.g,TR,y,TR-8,y,'#000',1.3);const t=txt(p.g,TR+8,y+6,String(v),TICK,'start');t.style.fill='#ff0000';

});
const rl=txt(p.g,0,0,'',18);rl.setAttribute('transform','translate(1738,3099) rotate(-90)');rl.style.fill='#ff0000';rl.innerHTML='<tspan font-style="italic" font-family="Liberation Serif" fill="#ff0000">T<tspan font-size="11" dy="4">e</tspan><tspan dy="-4">/T</tspan><tspan font-size="11" dy="4">p</tspan></tspan>';


const lg=mk('g',p.g);
const r=mk('rect',lg);r.setAttribute('x',1598);r.setAttribute('y',3013);r.setAttribute('width',91);r.setAttribute('height',32);r.setAttribute('fill','#fff');r.setAttribute('stroke','#000');r.setAttribute('stroke-width',2);
line(lg,1606,3029,1628,3029,'#ff0000',2.5);const lt=txt(lg,1681,3035,'',15,'end');lt.innerHTML='<tspan font-style="italic" font-family="Liberation Serif">T<tspan font-size="10" dy="3">e</tspan><tspan dy="-3">/T</tspan><tspan font-size="10" dy="3">p</tspan></tspan>';
})();
</script>
</body></html>
